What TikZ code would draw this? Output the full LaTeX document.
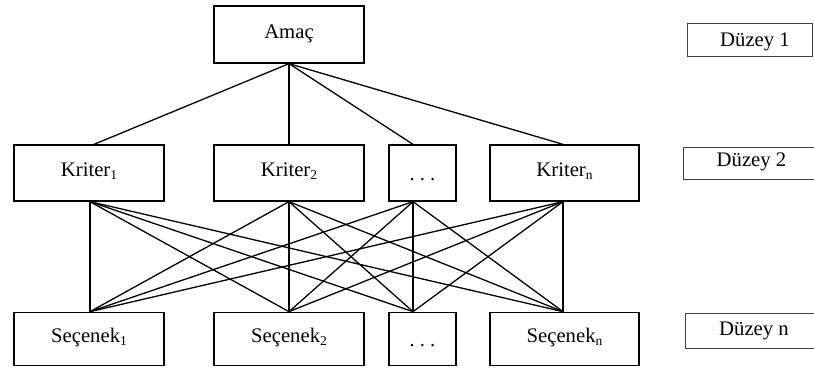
\documentclass[tikz,border=0pt]{standalone}
\usepackage{fontspec}
\setmainfont{Liberation Serif}
\newcommand{\sbs}[1]{\raisebox{-3pt}{\fontsize{13.5}{14}\selectfont #1}}
\newcommand{\dotsx}{\raisebox{-4pt}{.\kern5pt.\kern5pt.}}
\begin{document}
\begin{tikzpicture}[x=1pt,y=-1pt,
  box/.style={draw, line width=1.3pt, minimum width=150pt, minimum height=56pt, inner sep=0pt,
    text height=12pt, text depth=5pt, font=\fontsize{20.7}{24}\selectfont},
  lvl/.style={draw=black!75, line width=0.9pt, minimum height=33pt, inner sep=0pt,
    text height=14pt, text depth=0pt, font=\fontsize{20.7}{24}\selectfont},
  conn/.style={line width=1.3pt}]
\useasboundingbox (0,0) rectangle (814,367);
\clip (0,0) rectangle (814,367);
% level 1
\node[box, minimum height=57pt] (amac) at (289,34.5) {Amaç};
% level 2
\node[box] (k1) at (89,173) {Kriter\sbs{1}};
\node[box] (k2) at (289,173) {Kriter\sbs{2}};
\node[box, minimum width=67pt] (kd) at (422.5,173) {\dotsx};
\node[box, minimum width=149pt] (kn) at (564.5,173) {Kriter\sbs{n}};
% level n
\node[box, minimum height=53pt] (s1) at (89,338.8) {Seçenek\sbs{1}};
\node[box, minimum height=53pt] (s2) at (289,338.8) {Seçenek\sbs{2}};
\node[box, minimum height=53pt, minimum width=67pt] (sd) at (422.5,338.8) {\dotsx};
\node[box, minimum height=53pt, minimum width=149pt] (sn) at (564.5,338.8) {Seçenek\sbs{n}};
% level labels
\node[lvl, minimum width=125pt] (d1) at (749.5,39.5) {\hspace*{11pt}Düzey 1};
\node[lvl, minimum width=137pt, minimum height=32pt, text height=10pt, text depth=4pt] (d2) at (751.5,163) {Düzey 2};
\node[lvl, minimum width=138pt, minimum height=35pt, text height=11pt, text depth=2pt] (dn) at (754,330.5) {Düzey n};
% connectors goal -> criteria
\foreach \t/\dx in {k1/5, k2/0, kd/-9.5, kn/-1.5}
  \draw[conn] (amac.south) -- ([xshift=\dx pt]\t.north);
% connectors criteria -> alternatives
\foreach \a/\da in {k1/1, k2/0, kd/-9.5, kn/-1.5}
  \foreach \b/\db in {s1/1, s2/0, sd/-9.5, sn/-1.5}
    \draw[conn] ([xshift=\da pt]\a.south) -- ([xshift=\db pt]\b.north);
\end{tikzpicture}
\end{document}
